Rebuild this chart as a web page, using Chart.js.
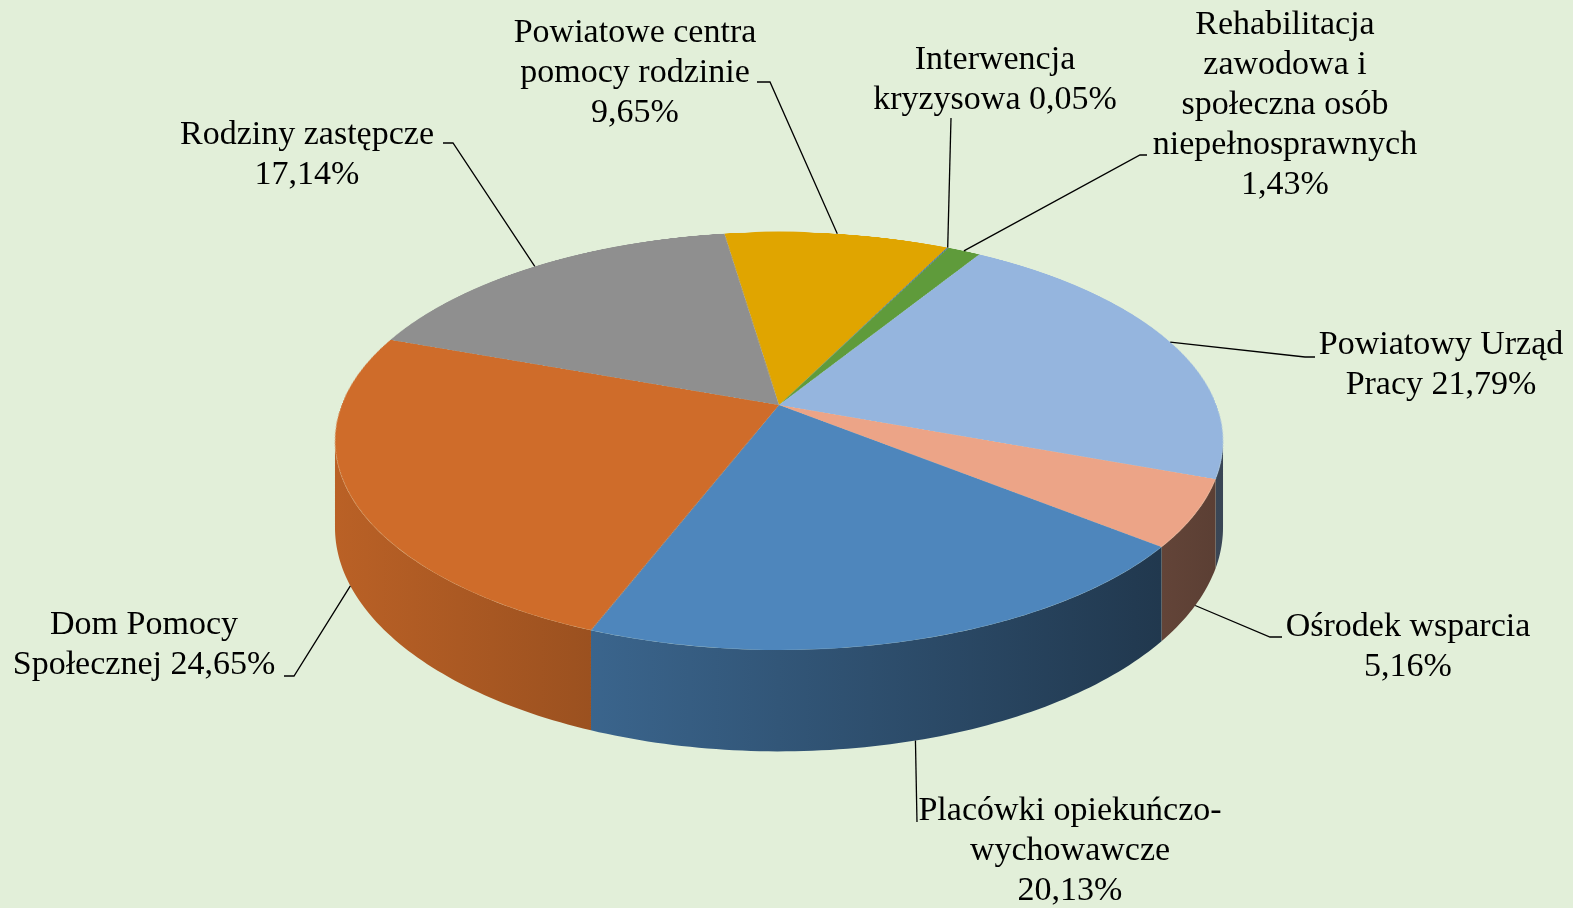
<!DOCTYPE html>
<html lang="pl">
<head>
<meta charset="utf-8">
<title>Struktura wydatków</title>
<script src="https://cdn.jsdelivr.net/npm/chart.js@4.4.0/dist/chart.umd.min.js"></script>
<style>
  html, body { margin: 0; padding: 0; background: #e2efd9; }
  canvas { display: block; }
</style>
</head>
<body>
<canvas id="chart" width="1573" height="908"></canvas>
<script>
// data, clockwise from the top
const categories = [
  'Powiatowe centra pomocy rodzinie',
  'Interwencja kryzysowa',
  'Rehabilitacja zawodowa i społeczna osób niepełnosprawnych',
  'Powiatowy Urząd Pracy',
  'Ośrodek wsparcia',
  'Placówki opiekuńczo-wychowawcze',
  'Dom Pomocy Społecznej',
  'Rodziny zastępcze'
];
const shares = [9.65, 0.05, 1.43, 21.79, 5.16, 20.13, 24.65, 17.14];
// label text lines, {p} = percent
const labelLines = [
  ['Powiatowe centra', 'pomocy rodzinie', '{p}'],
  ['Interwencja', 'kryzysowa {p}'],
  ['Rehabilitacja', 'zawodowa i', 'społeczna osób', 'niepełnosprawnych', '{p}'],
  ['Powiatowy Urząd', 'Pracy {p}'],
  ['Ośrodek wsparcia', '{p}'],
  ['Placówki opiekuńczo-', 'wychowawcze', '{p}'],
  ['Dom Pomocy', 'Społecznej {p}'],
  ['Rodziny zastępcze', '{p}']
];
const sliceColors = ['#e0a500', '#3f6fb0', '#5f9b3b', '#95b5de', '#eca487', '#4e86bc', '#cf6c2a', '#8f8f8f'];

// label placement (x = text centre, y = first line centre, then leader elbow / end)
const labelLayout = [
  { x: 635, y: 33, elbow: [770, 82], end: [757, 82] },
  { x: 995, y: 60, elbow: [951, 118], end: null },
  { x: 1285, y: 25, elbow: [1140, 155], end: [1147, 155] },
  { x: 1441, y: 345, elbow: [1305, 357], end: [1315, 357] },
  { x: 1408, y: 627, elbow: [1270, 637], end: [1282, 637], depth: 1 },
  { x: 1070, y: 811, elbow: [917, 822], end: null, depth: 1 },
  { x: 144, y: 625, elbow: [294, 676], end: [284, 676], depth: 1 },
  { x: 307, y: 135, elbow: [453, 143], end: [443, 143] }
];

// perspective of the pie top: screen centre x, y of the pie apex,
// half width, vertical scale, perspective strength, thickness
const VIEW = { cx: 779, y0: 405, a: 437.4, b: 202.8, g: 0.172, depth: 84 };
const FONT = '34px "Liberation Serif", "Times New Roman", serif';
const LINE_H = 40;

function fmtPct(v) {
  return v.toFixed(2).replace('.', ',') + '%';
}

function shade(hex, f) {
  const n = parseInt(hex.slice(1), 16);
  const r = Math.round(((n >> 16) & 255) * f);
  const g = Math.round(((n >> 8) & 255) * f);
  const b = Math.round((n & 255) * f);
  return `rgb(${r},${g},${b})`;
}

// rim point for canvas angle phi, dropped by `drop` (before perspective)
function rim(phi, drop) {
  const s = Math.sin(phi), c = Math.cos(phi);
  const w = 1 - VIEW.g * s;
  return [VIEW.cx + VIEW.a * c / w, VIEW.y0 + (VIEW.b * s + (drop || 0)) / w];
}

function vAtRow(Y) {
  const d = Y - VIEW.y0;
  return d / (VIEW.b + VIEW.g * d);
}

// Chart.js draws a flat pie; this plugin tilts it and adds the side walls
const pie3d = {
  id: 'pie3d',
  afterDatasetsDraw(chart) {
    const ctx = chart.ctx;
    const cvs = chart.canvas;
    const arcs = chart.getDatasetMeta(0).data;
    const sx = arcs[0].x, sy = arcs[0].y, R = arcs[0].outerRadius;

    const flat = document.createElement('canvas');
    flat.width = cvs.width;
    flat.height = cvs.height;
    flat.getContext('2d').drawImage(cvs, 0, 0);

    ctx.save();
    ctx.setTransform(1, 0, 0, 1, 0, 0);
    ctx.clearRect(0, 0, cvs.width, cvs.height);

    // side walls, front half only
    const lim0 = Math.asin(VIEW.g), lim1 = Math.PI - lim0;
    arcs.forEach((a, i) => {
      for (let n = -1; n <= 1; n++) {
        const lo = Math.max(a.startAngle, 2 * Math.PI * n + lim0);
        const hi = Math.min(a.endAngle, 2 * Math.PI * n + lim1);
        if (hi <= lo) continue;
        const steps = Math.max(2, Math.ceil((hi - lo) * 60));
        ctx.beginPath();
        for (let k = 0; k <= steps; k++) {
          const p = rim(lo + (hi - lo) * k / steps, 0);
          k ? ctx.lineTo(p[0], p[1]) : ctx.moveTo(p[0], p[1]);
        }
        for (let k = steps; k >= 0; k--) {
          const p = rim(lo + (hi - lo) * k / steps, VIEW.depth);
          ctx.lineTo(p[0], p[1]);
        }
        ctx.closePath();
        const grad = ctx.createLinearGradient(VIEW.cx - VIEW.a * 1.02, 0, VIEW.cx + VIEW.a * 1.02, 0);
        grad.addColorStop(0, shade(sliceColors[i], 0.9));
        grad.addColorStop(1, shade(sliceColors[i], 0.38));
        ctx.fillStyle = grad;
        ctx.fill();
      }
    });

    // top face, row by row in perspective
    const yTop = Math.floor(VIEW.y0 - VIEW.b / (1 + VIEW.g));
    const yBot = Math.ceil(VIEW.y0 + VIEW.b / (1 - VIEW.g));
    for (let Y = yTop; Y < yBot; Y++) {
      const v1 = Math.max(-1, vAtRow(Y));
      const v2 = Math.min(1, vAtRow(Y + 1));
      if (v2 <= v1) continue;
      const hw = VIEW.a / (1 - VIEW.g * (v1 + v2) / 2);
      ctx.drawImage(flat, sx - R, sy + R * v1, 2 * R, R * (v2 - v1),
        VIEW.cx - hw, Y, 2 * hw, 1);
    }
    ctx.restore();
  }
};

// labels with leader lines
const pieLabels = {
  id: 'pieLabels',
  afterDraw(chart) {
    const ctx = chart.ctx;
    const arcs = chart.getDatasetMeta(0).data;

    ctx.save();
    ctx.strokeStyle = '#000';
    ctx.lineWidth = 1.3;
    arcs.forEach((a, i) => {
      const lay = labelLayout[i];
      const mid = (a.startAngle + a.endAngle) / 2;
      const drop = Math.sin(mid) > 0.2 ? VIEW.depth * (lay.depth ?? 0.6) : 0;
      const p = rim(mid, drop);
      ctx.beginPath();
      ctx.moveTo(p[0], p[1]);
      ctx.lineTo(lay.elbow[0], lay.elbow[1]);
      if (lay.end) ctx.lineTo(lay.end[0], lay.end[1]);
      ctx.stroke();
    });

    ctx.fillStyle = '#000';
    ctx.font = FONT;
    ctx.textAlign = 'center';
    ctx.textBaseline = 'middle';
    labelLines.forEach((lines, i) => {
      const lay = labelLayout[i];
      lines.forEach((ln, j) => {
        ctx.fillText(ln.replace('{p}', fmtPct(shares[i])), lay.x, lay.y + j * LINE_H);
      });
    });
    ctx.restore();
  }
};

new Chart(document.getElementById('chart'), {
  type: 'pie',
  data: {
    labels: categories,
    datasets: [{
      data: shares,
      backgroundColor: sliceColors,
      borderWidth: 0
    }]
  },
  options: {
    responsive: false,
    animation: false,
    events: [],
    rotation: -8.4,
    layout: { padding: { left: 335, right: 350, top: 10, bottom: 10 } },
    plugins: {
      legend: { display: false },
      tooltip: { enabled: false }
    }
  },
  plugins: [pie3d, pieLabels]
});
</script>
</body>
</html>
